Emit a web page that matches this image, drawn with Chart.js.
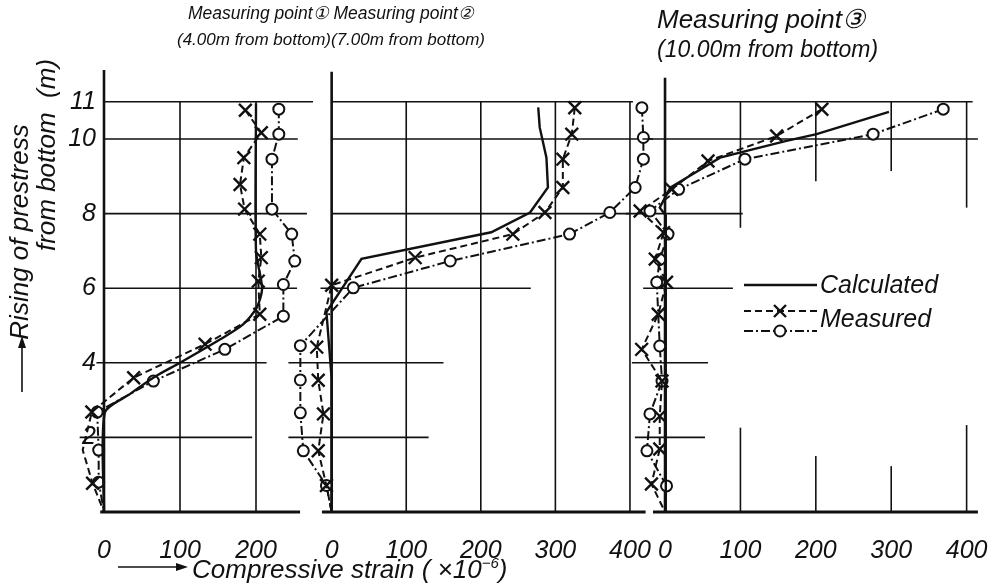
<!DOCTYPE html>
<html>
<head>
<meta charset="utf-8">
<script src="https://cdn.jsdelivr.net/npm/chart.js@4.4.0/dist/chart.umd.min.js"></script>
<style>
body { margin: 0; background: #fff; }
#wrap { position: relative; width: 994px; height: 584px; overflow: hidden; color: #111;
  font-family: "Liberation Sans Narrow", "Liberation Sans", Arial, sans-serif; font-style: italic; }
canvas { position: absolute; left: 0; top: 0; }
.t { position: absolute; white-space: nowrap; line-height: 1; }
.rot { transform: translate(-50%, -50%) rotate(-90deg); }
</style>
</head>
<body>
<div id="wrap">
  <canvas id="c1" width="994" height="584"></canvas>
  <canvas id="c2" width="994" height="584"></canvas>
  <canvas id="c3" width="994" height="584"></canvas>
  <div class="t" style="left:188px;top:5px;font-size:17.5px">Measuring point① Measuring point②</div>
  <div class="t" style="left:177px;top:31px;font-size:17px">(4.00m from bottom)(7.00m from bottom)</div>
  <div class="t" style="left:657px;top:6px;font-size:26px">Measuring point③</div>
  <div class="t" style="left:657px;top:38px;font-size:23px">(10.00m from bottom)</div>
  <div class="t rot" style="left:19px;top:232px;font-size:26px">Rising of prestress</div>
  <div class="t rot" style="left:46px;top:155px;font-size:26px">from bottom&nbsp;&nbsp;(m)</div>
  <div class="t" style="left:192px;top:555px;font-size:26px">Compressive strain ( ×10<sup style="font-size:15px">−6</sup>)</div>
</div>
<script>
// strain values (x10^-6), heights in m

// Measuring point 1
const p1CalcH = [10.95, 7.0, 6.0, 5.48, 5.03, 4.63, 4.0, 3.65, 3.16, 2.66, 0];
const p1CalcS = [200, 200, 208, 201, 183, 153, 100, 69, 34, 1, 0];
const p1CrossH = [10.77, 10.17, 9.5, 8.78, 8.12, 7.45, 6.82, 6.19, 5.3, 4.5, 3.6, 2.68, 1.66, 0.77, 0];
const p1CrossS = [186, 207, 184, 179, 185, 205, 207, 203, 205, 133, 39, -16, -28, -15, 0];
const p1CircH = [10.8, 10.13, 9.46, 8.12, 7.45, 6.73, 6.1, 5.25, 4.36, 3.51, 2.68, 1.66, 0.8, 0];
const p1CircS = [230, 230, 221, 221, 247, 251, 236, 236, 159, 65, -9, -7, -7, 0];

// Measuring point 2
const p2CalcH = [10.85, 10.31, 9.5, 8.7, 8.03, 7.5, 6.79, 5.36, 3.57, 0];
const p2CalcS = [277, 279, 288, 290, 266, 214, 40, -7, 0, 0];
const p2CrossH = [10.84, 10.13, 9.46, 8.7, 8.03, 7.45, 6.82, 6.08, 4.42, 3.53, 2.63, 1.64, 0.71, 0];
const p2CrossS = [326, 322, 310, 310, 286, 243, 112, 0, -20, -18, -11, -18, -7, 0];
const p2CircH = [10.84, 10.04, 9.46, 8.7, 8.03, 7.45, 6.73, 6.01, 4.46, 3.54, 2.66, 1.64, 0.71, 0];
const p2CircS = [416, 418, 418, 407, 373, 319, 159, 29, -42, -42, -42, -38, -7, 0];

// Measuring point 3
const p3CalcH = [10.73, 10.13, 9.95, 9.5, 8.7, 8.16, 7.95, 0];
const p3CalcS = [297, 201, 161, 73, 7, -7, 1, 1];
const p3CrossH = [10.8, 10.08, 9.41, 8.65, 8.07, 7.49, 6.78, 6.16, 5.3, 4.36, 3.51, 2.57, 1.69, 0.75, 0];
const p3CrossS = [208, 148, 57, 9, -33, -2, -13, 2, -9, -31, -4, -7, -7, -18, 0];
const p3CircH = [10.8, 10.13, 9.46, 8.65, 8.07, 7.45, 6.77, 6.16, 4.45, 3.51, 2.63, 1.64, 0.7, 0];
const p3CircS = [369, 276, 106, 18, -20, 4, -7, -11, -7, -4, -20, -24, 2, 0];

const xTicksShort = [0, 100, 200];
const xTicksLong = [0, 100, 200, 300, 400];
const yTicks = [2, 4, 6, 8, 10, 11];

const FONT = '"Liberation Sans Narrow", "Liberation Sans", Arial, sans-serif';
const INK = '#111';

const pts = (xs, ys) => xs.map((v, i) => ({ x: v, y: ys[i] }));

// hand-drawn looking grid: partial lines given in data units
const sketchGrid = {
  id: 'sketchGrid',
  beforeDatasetsDraw(chart, args, opts) {
    const { ctx, scales: { x, y } } = chart;
    const seg = (x0, y0, x1, y1, w) => {
      ctx.lineWidth = w;
      ctx.beginPath();
      ctx.moveTo(x.getPixelForValue(x0), y.getPixelForValue(y0));
      ctx.lineTo(x.getPixelForValue(x1), y.getPixelForValue(y1));
      ctx.stroke();
    };
    ctx.save();
    ctx.strokeStyle = INK;
    (opts.h || []).forEach(([v, a, b]) => seg(a, v, b, v, 1.6));
    (opts.v || []).forEach(([v, a, b]) => seg(v, a, v, b, v === 0 ? 2.6 : 1.6));
    (opts.base || []).forEach(([a, b]) => seg(a, 0, b, 0, 2.8));
    ctx.restore();
  },
  afterDraw(chart, args, opts) {
    const ctx = chart.ctx;
    ctx.save();
    ctx.strokeStyle = INK;
    ctx.fillStyle = INK;
    if (opts.arrows) {
      // arrows in front of the axis titles
      ctx.lineWidth = 1.6;
      ctx.beginPath(); ctx.moveTo(118, 567); ctx.lineTo(180, 567); ctx.stroke();
      ctx.beginPath(); ctx.moveTo(188, 567); ctx.lineTo(176, 563); ctx.lineTo(176, 571); ctx.closePath(); ctx.fill();
      ctx.beginPath(); ctx.moveTo(22, 392); ctx.lineTo(22, 346); ctx.stroke();
      ctx.beginPath(); ctx.moveTo(22, 336); ctx.lineTo(18, 348); ctx.lineTo(26, 348); ctx.closePath(); ctx.fill();
    }
    if (opts.legend) {
      const x0 = 744, x1 = 817, xm = 780;
      ctx.lineWidth = 2.4;
      ctx.setLineDash([]);
      ctx.beginPath(); ctx.moveTo(x0, 285); ctx.lineTo(x1, 285); ctx.stroke();
      ctx.lineWidth = 2;
      ctx.setLineDash([7, 4]);
      ctx.beginPath(); ctx.moveTo(x0, 311); ctx.lineTo(x1, 311); ctx.stroke();
      ctx.setLineDash([9, 3, 2, 3]);
      ctx.beginPath(); ctx.moveTo(x0, 331); ctx.lineTo(x1, 331); ctx.stroke();
      ctx.setLineDash([]);
      ctx.lineWidth = 2.4;
      ctx.beginPath();
      ctx.moveTo(xm - 6, 305); ctx.lineTo(xm + 6, 317);
      ctx.moveTo(xm + 6, 305); ctx.lineTo(xm - 6, 317);
      ctx.stroke();
      ctx.beginPath(); ctx.arc(xm, 331, 5.5, 0, Math.PI * 2);
      ctx.fillStyle = '#fff'; ctx.fill(); ctx.lineWidth = 2; ctx.stroke();
      ctx.fillStyle = INK;
      ctx.font = 'italic 25px ' + FONT;
      ctx.textBaseline = 'middle';
      ctx.fillText('Calculated', 820, 286);
      ctx.fillText('Measured', 820, 320);
    }
    ctx.restore();
  }
};

function panel(id, d) {
  const marker = (r) => (c) => (c.raw && c.raw.y === 0 ? 0 : r);
  return new Chart(document.getElementById(id), {
    type: 'scatter',
    data: {
      datasets: [
        {
          label: 'Calculated', data: pts(d.calcS, d.calcH), showLine: true, clip: false,
          borderColor: INK, borderWidth: 2.4, pointRadius: 0, tension: d.tension
        },
        {
          label: 'Measured (x)', data: pts(d.crossS, d.crossH), showLine: true, clip: false,
          borderColor: INK, borderWidth: 2, borderDash: [7, 4],
          pointStyle: 'crossRot', pointRadius: marker(9), pointBorderWidth: 2.4, pointBorderColor: INK
        },
        {
          label: 'Measured (o)', data: pts(d.circS, d.circH), showLine: true, clip: false,
          borderColor: INK, borderWidth: 2, borderDash: [9, 3, 2, 3],
          pointStyle: 'circle', pointRadius: marker(5.5), pointBorderWidth: 2,
          pointBackgroundColor: '#fff', pointBorderColor: INK
        }
      ]
    },
    options: {
      responsive: false,
      animation: false,
      events: [],
      layout: { padding: { left: d.padL, right: d.padR, top: 70, bottom: 0 } },
      plugins: {
        legend: { display: false },
        tooltip: { enabled: false },
        sketchGrid: { h: d.h, v: d.v, base: d.base, legend: d.legend, arrows: d.arrows }
      },
      scales: {
        x: {
          type: 'linear', min: d.xmin, max: d.xmax,
          grid: { display: false, drawTicks: true, tickLength: 24 }, border: { display: false },
          afterBuildTicks: (s) => { s.ticks = d.xTicks.map((v) => ({ value: v })); },
          afterFit: (s) => { s.height = 72; },
          ticks: { padding: 0, color: INK, font: { family: FONT, size: 25, style: 'italic' } }
        },
        y: {
          type: 'linear', min: 0, max: 11.85, display: d.showY,
          grid: { display: false, drawTicks: false }, border: { display: false },
          afterBuildTicks: (s) => { s.ticks = yTicks.map((v) => ({ value: v })); },
          afterFit: (s) => { s.width = d.showY ? 100 : 0; },
          ticks: { padding: 4, color: INK, font: { family: FONT, size: 25, style: 'italic' } }
        }
      }
    },
    plugins: [sketchGrid]
  });
}

panel('c1', {
  calcH: p1CalcH, calcS: p1CalcS, crossH: p1CrossH, crossS: p1CrossS, circH: p1CircH, circS: p1CircS,
  tension: 0.25, xmin: -5.26, xmax: 275, padL: 0, padR: 681, showY: true, xTicks: xTicksShort, arrows: true,
  h: [[11, 0, 275], [10, 0, 255], [8, 0, 267], [6, 0, 254], [4, -10, 214], [2, -32, 195]],
  v: [[0, 0, 11.85], [100, 0, 11], [200, 0, 11]],
  base: [[-5, 258]]
});

panel('c2', {
  calcH: p2CalcH, calcS: p2CalcS, crossH: p2CrossH, crossS: p2CrossS, circH: p2CircH, circS: p2CircS,
  tension: 0, xmin: -45, xmax: 425, padL: 298.1, padR: 345.4, showY: false, xTicks: xTicksLong,
  h: [[11, 0, 404], [10, 0, 431], [8, 0, 400], [6, -15, 267], [4, -58, 150], [2, -58, 130]],
  v: [[0, 0, 11.8], [100, 0, 11], [200, 0, 11], [300, 0, 11], [400, 0, 11]],
  base: [[-13, 421]]
});

panel('c3', {
  calcH: p3CalcH, calcS: p3CalcS, crossH: p3CrossH, crossS: p3CrossS, circH: p3CircH, circS: p3CircS,
  tension: 0, xmin: -45, xmax: 420, padL: 631.1, padR: 12.3, showY: false, xTicks: xTicksLong, legend: true,
  h: [[11, 0, 408], [10, -30, 415], [8, -52, 103], [6, -29, 90], [4, -44, 57], [2, -40, 53]],
  v: [[0, 0, 11.64], [100, 7.62, 11], [100, 0, 2.26], [200, 8.87, 11], [200, 0, 1.5],
      [300, 9.14, 11], [300, 0, 1.23], [400, 8.16, 11], [400, 0, 2.33]],
  base: [[-16, 415]]
});
</script>
</body>
</html>
